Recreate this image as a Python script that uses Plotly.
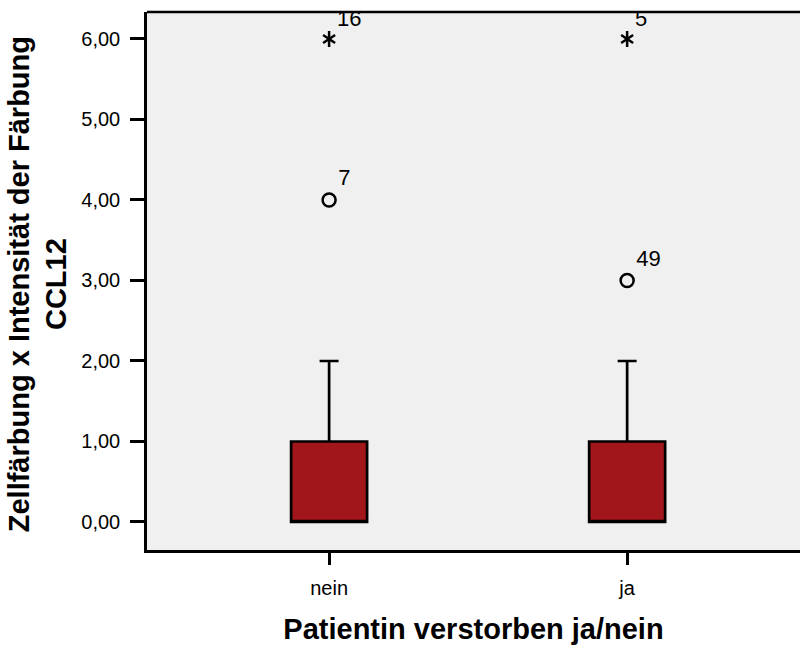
import plotly.graph_objects as go

categories = ["nein", "ja"]
q1 = [0, 0]
median = [0, 0]
q3 = [1, 1]
lower_fence = [0, 0]
upper_fence = [2, 2]

outlier_x = ["nein", "ja"]
outlier_y = [4, 3]
outlier_labels = ["7", "49"]

extreme_x = ["nein", "ja"]
extreme_y = [6, 6]
extreme_labels = ["16", "5"]

y_ticks = [0, 1, 2, 3, 4, 5, 6]
y_ticklabels = ["0,00", "1,00", "2,00", "3,00", "4,00", "5,00", "6,00"]

FONT = "Arial, Liberation Sans, sans-serif"

fig = go.Figure()
fig.add_trace(go.Box(
    x=categories, q1=q1, median=median, q3=q3,
    lowerfence=lower_fence, upperfence=upper_fence,
    width=0.255, whiskerwidth=0.25,
    fillcolor="#A0161A", line=dict(color="black", width=2.7),
    boxpoints=False, showlegend=False,
))
fig.add_trace(go.Scatter(
    x=outlier_x, y=outlier_y, mode="markers+text",
    text=outlier_labels, textposition="top right",
    textfont=dict(family=FONT, size=22, color="black"),
    marker=dict(symbol="circle-open", size=13, color="black", line=dict(width=2.5)),
    showlegend=False, cliponaxis=False,
))
for sym in ["y-up-open", "y-down-open"]:
    fig.add_trace(go.Scatter(
        x=extreme_x, y=extreme_y, mode="markers",
        marker=dict(symbol=sym, size=10, color="black", line=dict(width=2.5, color="black")),
        showlegend=False, cliponaxis=False,
    ))
fig.add_trace(go.Scatter(
    x=extreme_x, y=extreme_y, mode="markers+text",
    text=extreme_labels, textposition="top right",
    textfont=dict(family=FONT, size=22, color="black"),
    marker=dict(size=11, opacity=0),
    showlegend=False, cliponaxis=False,
))

fig.add_shape(type="line", xref="paper", yref="paper", x0=0, x1=1, y0=1, y1=1,
              line=dict(color="black", width=2.5))

fig.add_annotation(
    text="<b>Zellfärbung x Intensität der Färbung<br>CCL12</b>",
    xref="paper", yref="paper", x=-0.1669, y=0.494,
    xanchor="center", yanchor="middle", textangle=-90, showarrow=False,
    font=dict(family=FONT, size=29, color="black"),
)

fig.update_layout(
    width=800, height=648,
    margin=dict(l=147, r=0, t=12, b=98),
    paper_bgcolor="white", plot_bgcolor="#F0F0F0",
    font=dict(family=FONT, color="black"),
    showlegend=False,
)
fig.update_xaxes(
    type="category", categoryorder="array", categoryarray=categories,
    range=[-0.611, 1.58],
    showline=True, linecolor="black", linewidth=2.5,
    ticks="outside", ticklen=12, tickwidth=2.5, tickcolor="black",
    ticklabelstandoff=6,
    tickfont=dict(size=20), showgrid=False, zeroline=False,
    title=dict(text="<b>Patientin verstorben ja/nein</b>", font=dict(size=29), standoff=21),
)
fig.update_yaxes(
    range=[-0.348, 6.335],
    tickvals=y_ticks, ticktext=y_ticklabels,
    showline=True, linecolor="black", linewidth=2.5,
    ticks="outside", ticklen=14, tickwidth=2.5, tickcolor="black",
    ticklabelstandoff=6,
    tickfont=dict(size=20), showgrid=False, zeroline=False,
)

fig.write_html("out.html")
